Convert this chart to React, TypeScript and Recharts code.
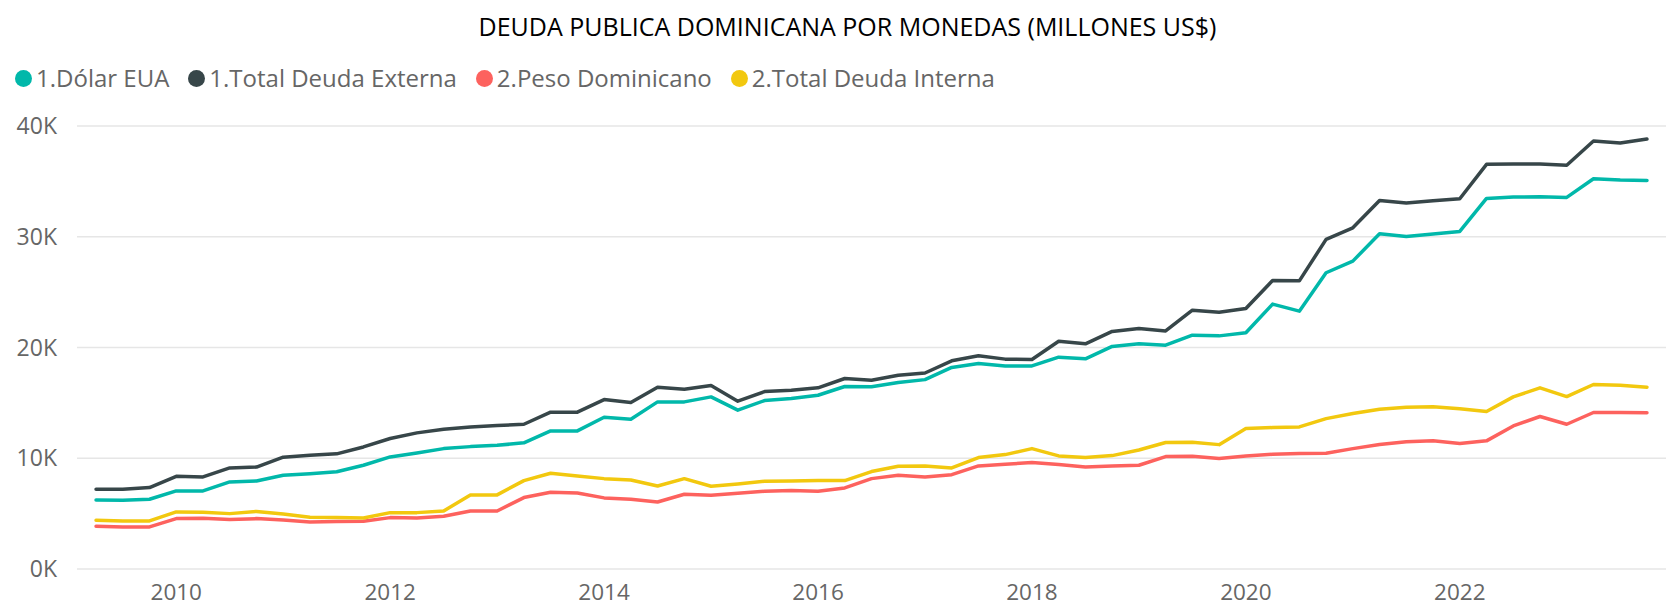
import { LineChart, Line, XAxis, YAxis, CartesianGrid } from 'recharts'

const TRIMESTRES = [
    '2009-T1', '2009-T2', '2009-T3', '2009-T4',
    '2010-T1', '2010-T2', '2010-T3', '2010-T4',
    '2011-T1', '2011-T2', '2011-T3', '2011-T4',
    '2012-T1', '2012-T2', '2012-T3', '2012-T4',
    '2013-T1', '2013-T2', '2013-T3', '2013-T4',
    '2014-T1', '2014-T2', '2014-T3', '2014-T4',
    '2015-T1', '2015-T2', '2015-T3', '2015-T4',
    '2016-T1', '2016-T2', '2016-T3', '2016-T4',
    '2017-T1', '2017-T2', '2017-T3', '2017-T4',
    '2018-T1', '2018-T2', '2018-T3', '2018-T4',
    '2019-T1', '2019-T2', '2019-T3', '2019-T4',
    '2020-T1', '2020-T2', '2020-T3', '2020-T4',
    '2021-T1', '2021-T2', '2021-T3', '2021-T4',
    '2022-T1', '2022-T2', '2022-T3', '2022-T4',
    '2023-T1', '2023-T2', '2023-T3',
]

// millones US$
const DOLAR_EUA = [
    6230, 6200, 6300, 7050, 7050, 7860, 7950, 8460, 8600, 8780,
    9370, 10120, 10480, 10870, 11050, 11170, 11390, 12470, 12470, 13700,
    13520, 15090, 15090, 15540, 14340, 15210, 15390, 15690, 16480, 16450,
    16840, 17100, 18200, 18550, 18340, 18340, 19130, 18980, 20100, 20330,
    20210, 21110, 21050, 21330, 23920, 23280, 26750, 27800, 30270, 30030,
    30240, 30480, 33460, 33580, 33610, 33550, 35240, 35120, 35090,
]
const TOTAL_EXTERNA = [
    7200, 7200, 7350, 8370, 8310, 9130, 9200, 10100, 10270, 10400,
    11020, 11780, 12290, 12620, 12830, 12950, 13070, 14160, 14160, 15300,
    15030, 16420, 16240, 16570, 15150, 16020, 16140, 16360, 17200, 17050,
    17500, 17700, 18800, 19250, 18950, 18920, 20570, 20330, 21450, 21720,
    21500, 23370, 23190, 23520, 26050, 26020, 29760, 30810, 33280, 33040,
    33250, 33430, 36540, 36570, 36570, 36450, 38640, 38460, 38830,
]
const PESO_DOMINICANO = [
    3860, 3800, 3800, 4550, 4580, 4460, 4550, 4430, 4250, 4280,
    4310, 4640, 4600, 4760, 5240, 5240, 6450, 6930, 6870, 6420,
    6300, 6050, 6750, 6660, 6840, 7020, 7080, 7020, 7320, 8160,
    8460, 8310, 8520, 9310, 9460, 9610, 9430, 9220, 9310, 9370,
    10150, 10180, 9970, 10210, 10360, 10420, 10450, 10870, 11250, 11480,
    11570, 11330, 11570, 12920, 13770, 13070, 14130, 14130, 14100,
]
const TOTAL_INTERNA = [
    4400, 4340, 4340, 5150, 5120, 5000, 5200, 4970, 4670, 4640,
    4600, 5090, 5090, 5240, 6690, 6690, 7980, 8640, 8400, 8160,
    8040, 7500, 8160, 7470, 7680, 7920, 7950, 7980, 7980, 8800,
    9280, 9310, 9130, 10060, 10330, 10870, 10210, 10060, 10240, 10750,
    11420, 11450, 11230, 12680, 12770, 12830, 13580, 14040, 14420, 14600,
    14640, 14460, 14220, 15540, 16360, 15570, 16660, 16600, 16420,
]

const ANIOS = [2010, 2012, 2014, 2016, 2018, 2020, 2022]
const Y_TICKS = [0, 10000, 20000, 30000, 40000]

const SERIES = [
    { key: 'dolar', nombre: '1.Dólar EUA', color: '#01B8AA' },
    { key: 'externa', nombre: '1.Total Deuda Externa', color: '#374649' },
    { key: 'peso', nombre: '2.Peso Dominicano', color: '#FD625E' },
    { key: 'interna', nombre: '2.Total Deuda Interna', color: '#F2C80F' },
]

// fin de trimestre como fraccion de año (T4 cae sobre el año siguiente)
const fechaNum = (t: string) => Number(t.slice(0, 4)) + Number(t.slice(6)) / 4

const datos = TRIMESTRES.map((t, i) => ({
    x: fechaNum(t),
    dolar: DOLAR_EUA[i],
    externa: TOTAL_EXTERNA[i],
    peso: PESO_DOMINICANO[i],
    interna: TOTAL_INTERNA[i],
}))

const FUENTE = "'Segoe UI', 'Open Sans', sans-serif"

export default function App() {
    return (
        <div style={{ position: 'absolute', left: 0, top: 0, width: 1675, height: 616, background: '#fff', fontFamily: FUENTE }}>
            <div style={{
                position: 'absolute', top: 10, left: 10, width: 1675, textAlign: 'center',
                fontSize: 25, lineHeight: '32px', color: '#000',
            }}>
                DEUDA PUBLICA DOMINICANA POR MONEDAS (MILLONES US$)
            </div>

            {/* leyenda */}
            <div style={{ position: 'absolute', top: 62, left: 15, display: 'flex', alignItems: 'center', height: 32 }}>
                {SERIES.map(s => (
                    <div key={s.key} style={{ display: 'flex', alignItems: 'center', marginRight: 19 }}>
                        <div style={{ width: 17, height: 17, borderRadius: '50%', background: s.color, marginRight: 4 }} />
                        <span style={{ fontSize: 24, color: '#666666', lineHeight: '32px' }}>{s.nombre}</span>
                    </div>
                ))}
            </div>

            <LineChart
                width={1675}
                height={616}
                data={datos}
                margin={{ top: 126, right: 9, bottom: 0, left: 0 }}
                style={{ position: 'absolute', left: 0, top: 0 }}
            >
                <CartesianGrid vertical={false} stroke="#E6E6E6" strokeWidth={1.5} />
                <XAxis
                    dataKey="x"
                    type="number"
                    domain={[2009.072, 2023.928]}
                    ticks={ANIOS}
                    allowDataOverflow
                    axisLine={false}
                    tickLine={false}
                    tickSize={0}
                    tickMargin={15}
                    height={47}
                    tick={{ fill: '#666666', fontSize: 22.5, fontFamily: FUENTE }}
                />
                <YAxis
                    domain={[0, 40000]}
                    ticks={Y_TICKS}
                    tickFormatter={(v: number) => `${v / 1000}K`}
                    axisLine={false}
                    tickLine={false}
                    tickSize={0}
                    tickMargin={20}
                    width={77}
                    tick={{ fill: '#666666', fontSize: 23, fontFamily: FUENTE }}
                />
                {SERIES.map(s => (
                    <Line
                        key={s.key}
                        dataKey={s.key}
                        name={s.nombre}
                        stroke={s.color}
                        strokeWidth={3.5}
                        strokeLinecap="round"
                        strokeLinejoin="round"
                        dot={false}
                        activeDot={false}
                        isAnimationActive={false}
                    />
                ))}
            </LineChart>
        </div>
    )
}
